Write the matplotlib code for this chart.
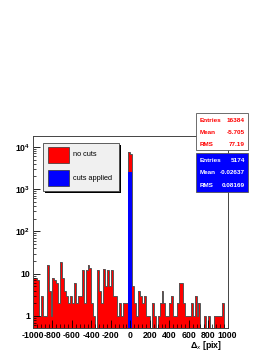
import matplotlib
matplotlib.use('Agg')
import matplotlib.pyplot as plt
from matplotlib.patches import Rectangle
from matplotlib.ticker import LogLocator, FixedLocator, MultipleLocator
import numpy as np

plt.rcParams['font.family'] = ['Liberation Sans', 'DejaVu Sans']
plt.rcParams['mathtext.fontset'] = 'custom'
plt.rcParams['mathtext.rm'] = 'Liberation Sans:bold'
plt.rcParams['mathtext.it'] = 'Liberation Sans:italic'
plt.rcParams['mathtext.bf'] = 'Liberation Sans:bold'

# histogram data: 100 bins from -1000 to 1000
bin_edges = np.linspace(-1000, 1000, 101)
red_counts = [8, 8, 7, 1, 3, 1, 1, 16, 4, 1,
              8, 7, 6, 2, 19, 8, 4, 3, 2, 3,
              2, 6, 2, 3, 3, 12, 2, 12, 16, 14,
              2, 1, 0, 12, 4, 2, 13, 5, 12, 5,
              12, 3, 3, 1, 2, 1, 2, 2, 2, 7600,
              6900, 5, 2, 1, 4, 3, 2, 3, 1, 1,
              0, 2, 1, 0, 1, 2, 4, 2, 1, 1,
              2, 3, 1, 1, 2, 6, 6, 2, 1, 1,
              1, 2, 1, 3, 1, 2, 0, 0, 1, 0,
              1, 0, 0, 1, 1, 1, 1, 2, 0, 0]
blue_counts = [0] * 49 + [2600, 2574] + [0] * 49

red_stats = [('Entries', '16384'), ('Mean', '-5.705'), ('RMS', '77.19')]
blue_stats = [('Entries', '5174'), ('Mean', '-0.02637'), ('RMS', '0.08169')]
legend_labels = ['no cuts', 'cuts applied']

W, H = 273, 353
fig = plt.figure(figsize=(W / 100, H / 100), dpi=100)
fig.patch.set_facecolor('white')

def fx(x):
    return x / W

def fy(y):
    return 1 - y / H

ax = fig.add_axes([fx(33), fy(328), fx(227.7) - fx(33), fy(135.5) - fy(328)])
ax.set_yscale('log')

widths = np.diff(bin_edges)
lefts = bin_edges[:-1]
ax.bar(lefts, red_counts, width=widths, align='edge', color='#ff0000', linewidth=0)
ax.stairs(red_counts, bin_edges, color='#555555', linewidth=0.7, baseline=None)
ax.bar(lefts, blue_counts, width=widths, align='edge', color='#0000ff', linewidth=0)

ax.set_xlim(-1000, 1000)
ax.set_ylim(0.52, 18500)

ax.xaxis.set_major_locator(FixedLocator(np.arange(-1000, 1001, 200)))
ax.xaxis.set_minor_locator(MultipleLocator(40))
ax.yaxis.set_major_locator(LogLocator(base=10, numticks=10))
ax.yaxis.set_minor_locator(LogLocator(base=10, subs=np.arange(2, 10), numticks=20))
ax.set_yticks([1, 10, 100, 1000, 10000])
ax.set_yticklabels(['1', '10', r'$10^{2}$', r'$10^{3}$', r'$10^{4}$'])
ax.set_xticklabels([str(v) for v in range(-1000, 1001, 200)])

ax.tick_params(axis='both', which='both', direction='in', top=False, right=False, colors='black')
ax.tick_params(axis='x', which='major', length=6, width=0.6, labelsize=6.3, pad=2)
ax.tick_params(axis='x', which='minor', length=3, width=0.5)
ax.tick_params(axis='y', which='major', length=5, width=0.6, labelsize=6.3, pad=2)
ax.tick_params(axis='y', which='minor', length=2.5, width=0.5)
for lab in ax.get_xticklabels() + ax.get_yticklabels():
    lab.set_fontweight('bold')
for sp in ax.spines.values():
    sp.set_color('#444444')
    sp.set_linewidth(0.7)

fig.text(fx(222), fy(345), r'$\Delta_{x}$ [pix]', ha='right', va='center', fontsize=6.3, fontweight='bold')

# legend box with shadow
lx0, ly0, lx1, ly1 = 43, 143, 119, 191
fig.patches.append(Rectangle((fx(lx0 + 2), fy(ly1 + 2)), fx(lx1 - lx0), fy(ly0) - fy(ly1),
                             transform=fig.transFigure, facecolor='black', edgecolor='none', zorder=5))
fig.patches.append(Rectangle((fx(lx0), fy(ly1)), fx(lx1 - lx0), fy(ly0) - fy(ly1),
                             transform=fig.transFigure, facecolor='#f0f0f0', edgecolor='#444444',
                             linewidth=0.6, zorder=6))
for i, (lab, col) in enumerate(zip(legend_labels, ['#ff0000', '#0000ff'])):
    top = 147 + i * 23
    fig.patches.append(Rectangle((fx(48), fy(top + 16)), fx(21), fy(top) - fy(top + 16),
                                 transform=fig.transFigure, facecolor=col, edgecolor='#333333',
                                 linewidth=0.5, zorder=7))
    fig.text(fx(73), fy(top + 8), lab, ha='left', va='center', fontsize=5.3, zorder=8)

# stats boxes
def stats_box(y0, y1, rows, face, textcol, row_y):
    fig.patches.append(Rectangle((fx(196), fy(y1)), fx(52), fy(y0) - fy(y1),
                                 transform=fig.transFigure, facecolor=face, edgecolor='#555555',
                                 linewidth=0.6, zorder=9))
    for (name, val), yy in zip(rows, row_y):
        fig.text(fx(200), fy(yy), name, ha='left', va='center', fontsize=4.6,
                 fontweight='bold', color=textcol, zorder=10)
        fig.text(fx(245), fy(yy), val, ha='right', va='center', fontsize=4.6,
                 fontweight='bold', color=textcol, zorder=10)

stats_box(113, 150, red_stats, 'white', '#ff0000', [121, 133, 144.5])
stats_box(153, 192, blue_stats, '#0000ff', 'white', [160, 172.7, 185.3])

fig.savefig('out.png', dpi=100)
